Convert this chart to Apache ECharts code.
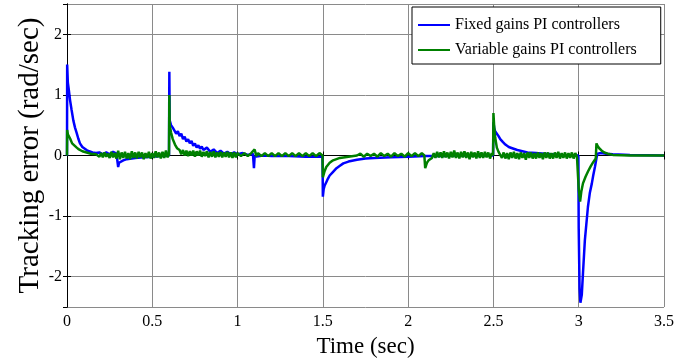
<!DOCTYPE html>
<html>
<head>
<meta charset="utf-8">
<script src="https://cdn.jsdelivr.net/npm/echarts@6/dist/echarts.min.js"></script>
<style>html,body{margin:0;padding:0;background:#fff}#c{width:696px;height:364px}</style>
</head>
<body>
<div id="c"></div>
<script>
const seriesNames = ['Fixed gains PI controllers', 'Variable gains PI controllers'];
const xTicks = ['0', '0.5', '1', '1.5', '2', '2.5', '3', '3.5'];
const yTicks = ['-2', '-1', '0', '1', '2'];

// [time (sec), tracking error (rad/sec)]
const fixedGains = [
  [0,0],[0.001,1.5],[0.005,1.2],[0.01,1.1],[0.018,0.91],[0.027,0.75],[0.037,0.58],[0.047,0.46],
  [0.057,0.37],[0.066,0.28],[0.076,0.2],[0.09,0.14],[0.1,0.11],[0.115,0.09],[0.13,0.07],[0.15,0.05],
  [0.17,0.04],[0.19,0.05],[0.21,0.02],[0.23,0.05],[0.25,0.02],[0.27,0.06],[0.29,0.03],[0.298,0.05],
  [0.3,-0.19],[0.305,-0.12],[0.31,-0.1],[0.33,-0.08],[0.35,-0.06],[0.38,-0.05],[0.4,-0.04],[0.45,-0.03],
  [0.5,-0.02],[0.55,-0.01],[0.598,0],
  [0.6,1.38],[0.602,0.58],[0.61,0.5],[0.62,0.46],[0.63,0.41],[0.64,0.36],[0.65,0.4],[0.66,0.32],
  [0.67,0.36],[0.68,0.27],[0.69,0.31],[0.7,0.23],[0.71,0.27],[0.72,0.2],[0.73,0.24],[0.74,0.16],
  [0.75,0.2],[0.76,0.13],[0.77,0.17],[0.78,0.11],[0.79,0.15],[0.8,0.09],[0.82,0.13],[0.84,0.06],
  [0.86,0.1],[0.88,0.04],[0.9,0.08],[0.92,0.03],[0.94,0.06],[0.96,0.02],[0.98,0.05],[1.0,0.02],
  [1.03,0.04],[1.06,0.01],[1.09,0.03],[1.096,-0.21],[1.1,-0.02],[1.15,0],[1.2,-0.01],[1.3,-0.01],
  [1.4,-0.02],[1.498,-0.02],
  [1.5,-0.68],[1.505,-0.55],[1.51,-0.5],[1.52,-0.44],[1.53,-0.38],[1.54,-0.33],[1.56,-0.27],[1.58,-0.21],
  [1.6,-0.17],[1.62,-0.13],[1.65,-0.1],[1.7,-0.07],[1.75,-0.05],[1.8,-0.04],[1.9,-0.03],[2.0,-0.02],
  [2.1,-0.01],[2.2,-0.01],[2.3,0],[2.498,0],
  [2.5,0.55],[2.505,0.45],[2.51,0.4],[2.52,0.36],[2.53,0.32],[2.54,0.27],[2.556,0.22],[2.57,0.18],
  [2.59,0.14],[2.61,0.12],[2.64,0.09],[2.67,0.07],[2.7,0.05],[2.75,0.04],[2.8,0.03],[2.9,0.01],[2.998,0],
  [3.0,-1.2],[3.005,-2.2],[3.01,-2.43],[3.018,-2.3],[3.025,-1.94],[3.036,-1.4],[3.054,-0.85],[3.065,-0.62],
  [3.077,-0.46],[3.085,-0.33],[3.095,-0.19],[3.105,-0.03],[3.11,0.03],[3.13,0.04],[3.16,0.03],[3.2,0.02],
  [3.3,0.01],[3.5,0]
];

const variableGains = [
  [0,0],[0.001,0.42],[0.005,0.35],[0.01,0.32],[0.018,0.28],[0.03,0.2],[0.04,0.17],[0.057,0.13],
  [0.07,0.1],[0.09,0.07],[0.115,0.05],[0.14,0.03],[0.17,0.02],
  [0.18,0.03],[0.19,-0.02],[0.2,0.04],[0.21,-0.03],[0.22,0.05],[0.23,-0.02],[0.24,0.03],[0.25,-0.04],
  [0.26,0.06],[0.27,-0.03],[0.28,0.04],[0.29,-0.05],[0.3,0.08],[0.31,-0.06],[0.32,0.05],[0.33,-0.04],
  [0.34,0.06],[0.35,-0.05],[0.36,0.04],[0.37,-0.06],[0.38,0.07],[0.39,-0.04],[0.4,0.05],[0.41,-0.05],
  [0.42,0.06],[0.43,-0.03],[0.44,0.05],[0.45,-0.06],[0.46,0.04],[0.47,-0.04],[0.48,0.06],[0.49,-0.05],
  [0.5,0.04],[0.51,-0.04],[0.52,0.07],[0.53,-0.03],[0.54,0.05],[0.55,-0.05],[0.56,0.06],[0.57,-0.04],
  [0.58,0.08],[0.59,-0.03],[0.598,0.02],
  [0.6,1.0],[0.602,0.5],[0.61,0.38],[0.62,0.27],[0.633,0.18],[0.645,0.12],[0.66,0.09],
  [0.67,0.02],[0.68,0.09],[0.69,0],[0.7,0.08],[0.71,-0.01],[0.72,0.07],[0.73,0],[0.74,0.08],
  [0.75,-0.02],[0.76,0.07],[0.77,0],[0.78,0.08],[0.79,-0.02],[0.8,0.06],[0.81,-0.01],[0.82,0.07],
  [0.83,-0.03],[0.84,0.06],[0.85,-0.02],[0.86,0.07],[0.87,-0.03],[0.88,0.05],[0.89,-0.02],[0.9,0.06],
  [0.91,-0.03],[0.92,0.05],[0.93,-0.02],[0.94,0.06],[0.95,-0.03],[0.96,0.05],[0.97,-0.04],[0.98,0.05],
  [0.99,-0.03],[1.0,0.04],
  [1.02,-0.01],[1.04,0.04],[1.06,-0.01],[1.08,0.04],[1.1,0.1],[1.11,-0.01],[1.12,0.04],[1.14,-0.01],
  [1.16,0.04],[1.18,-0.01],[1.2,0.04],[1.22,-0.01],[1.24,0.04],[1.26,-0.01],[1.28,0.04],[1.3,-0.01],
  [1.32,0.04],[1.34,-0.01],[1.36,0.04],[1.38,-0.01],[1.4,0.04],[1.42,-0.01],[1.44,0.04],[1.46,-0.01],
  [1.48,0.04],[1.498,0],
  [1.5,-0.36],[1.51,-0.26],[1.52,-0.19],[1.54,-0.12],[1.56,-0.08],[1.6,-0.04],[1.65,-0.02],[1.7,0],
  [1.72,0.03],[1.74,-0.02],[1.76,0.03],[1.78,-0.01],[1.8,0.03],[1.82,-0.02],[1.84,0.04],[1.86,-0.01],
  [1.88,0.03],[1.9,-0.02],[1.92,0.04],[1.94,-0.01],[1.96,0.03],[1.98,-0.02],[2.0,0.04],[2.02,-0.01],
  [2.04,0.04],[2.06,-0.01],[2.08,0.04],[2.095,0],
  [2.1,-0.21],[2.11,-0.12],[2.12,-0.08],[2.14,-0.04],
  [2.15,0.04],[2.16,-0.04],[2.17,0.06],[2.18,-0.03],[2.19,0.05],[2.2,-0.04],[2.21,0.07],[2.22,-0.03],
  [2.23,0.05],[2.24,-0.05],[2.25,0.06],[2.26,-0.03],[2.27,0.08],[2.28,-0.04],[2.29,0.05],[2.3,-0.05],
  [2.31,0.06],[2.32,-0.03],[2.33,0.07],[2.34,-0.04],[2.35,0.05],[2.36,-0.06],[2.37,0.06],[2.38,-0.03],
  [2.39,0.05],[2.4,-0.05],[2.41,0.07],[2.42,-0.04],[2.43,0.05],[2.44,-0.04],[2.45,0.06],[2.46,-0.03],
  [2.47,0.05],[2.48,-0.05],[2.49,0.04],[2.498,0],
  [2.5,0.7],[2.505,0.45],[2.51,0.3],[2.52,0.13],[2.53,0.06],[2.54,0.04],
  [2.55,-0.04],[2.56,0.05],[2.57,-0.05],[2.58,0.04],[2.59,-0.06],[2.6,0.05],[2.61,-0.04],[2.62,0.06],
  [2.63,-0.05],[2.64,0.04],[2.65,-0.06],[2.66,0.05],[2.67,-0.04],[2.68,0.04],[2.69,-0.07],[2.7,0.05],
  [2.71,-0.04],[2.72,0.05],[2.73,-0.05],[2.74,0.04],[2.75,-0.05],[2.76,0.05],[2.77,-0.04],[2.78,0.04],
  [2.79,-0.06],[2.8,0.05],[2.81,-0.04],[2.82,0.05],[2.83,-0.05],[2.84,0.04],[2.85,-0.05],[2.86,0.05],
  [2.87,-0.04],[2.88,0.06],[2.89,-0.05],[2.9,0.04],[2.91,-0.04],[2.92,0.05],[2.93,-0.05],[2.94,0.04],
  [2.95,-0.04],[2.96,0.05],[2.97,-0.05],[2.98,0.04],[2.99,-0.03],[2.998,0],
  [3.0,-0.55],[3.008,-0.76],[3.015,-0.6],[3.025,-0.46],[3.04,-0.35],[3.055,-0.26],[3.07,-0.18],[3.085,-0.11],
  [3.1,-0.05],[3.104,0.2],[3.11,0.16],[3.12,0.12],[3.135,0.08],[3.15,0.05],[3.17,0.03],[3.2,0.01],
  [3.3,0],[3.5,0]
];

const FONT = '"Liberation Serif", "Times New Roman", serif';
const chart = echarts.init(document.getElementById('c'), null, {renderer: 'canvas'});
const gridColor = '#8a8a8a';
const fmtY = v => (yTicks.indexOf(String(v)) >= 0 ? String(v) : '');
const fmtX = v => { const s = String(+v.toFixed(2)); return xTicks.indexOf(s) >= 0 ? s : ''; };

chart.setOption({
  animation: false,
  backgroundColor: '#fff',
  grid: {left: 67, right: 32, top: 4, bottom: 57, containLabel: false},
  legend: {
    orient: 'vertical', left: 412, top: 7,
    padding: [10, 24, 6, 6], itemGap: 9, itemWidth: 32, itemHeight: 2,
    icon: 'rect',
    borderColor: '#000', borderWidth: 1, backgroundColor: '#fff',
    textStyle: {fontFamily: FONT, fontSize: 16, color: '#000', lineHeight: 16},
    data: seriesNames
  },
  xAxis: [{
    type: 'value', min: 0, max: 3.5, interval: 0.5,
    name: 'Time (sec)', nameLocation: 'middle', nameGap: 28, nameMoveOverlap: false,
    nameTextStyle: {fontFamily: FONT, fontSize: 23, color: '#000'},
    axisLine: {lineStyle: {color: '#000', width: 1}},
    axisTick: {inside: true, length: 4, lineStyle: {color: '#000'}},
    axisLabel: {fontFamily: FONT, fontSize: 16, color: '#000', margin: 7, formatter: fmtX},
    splitLine: {show: true, lineStyle: {color: gridColor, width: 1}}
  }, {
    type: 'value', min: 0, max: 3.5, interval: 0.5, position: 'top',
    axisLine: {show: true, lineStyle: {color: '#000', width: 1}},
    axisTick: {show: true, inside: true, length: 4, lineStyle: {color: '#000'}},
    axisLabel: {show: false}, splitLine: {show: false}
  }],
  yAxis: [{
    type: 'value', min: -2.5, max: 2.5, splitNumber: 5,
    name: 'Tracking error (rad/sec)', nameLocation: 'middle', nameGap: 22, nameMoveOverlap: false,
    nameTextStyle: {fontFamily: FONT, fontSize: 29, color: '#000'},
    axisLine: {show: true, lineStyle: {color: '#000', width: 1}},
    axisTick: {inside: true, length: 4, lineStyle: {color: '#000'}},
    axisLabel: {fontFamily: FONT, fontSize: 16, color: '#000', margin: 5, formatter: fmtY,
                showMinLabel: false, showMaxLabel: false},
    splitLine: {show: true, lineStyle: {color: gridColor, width: 1}}
  }, {
    type: 'value', min: -2.5, max: 2.5, splitNumber: 5, position: 'right',
    axisLine: {show: true, lineStyle: {color: '#000', width: 1}},
    axisTick: {show: true, inside: true, length: 4, lineStyle: {color: '#000'}},
    axisLabel: {show: false}, splitLine: {show: false}
  }],
  series: [{
    name: seriesNames[0], type: 'line', data: fixedGains, xAxisIndex: 0, yAxisIndex: 0,
    symbol: 'none', color: '#0000ff', lineStyle: {color: '#0000ff', width: 2.5}, z: 2
  }, {
    name: seriesNames[1], type: 'line', data: variableGains, xAxisIndex: 0, yAxisIndex: 0,
    symbol: 'none', color: '#008000', lineStyle: {color: '#008000', width: 2.5}, z: 3
  }]
});
</script>
</body>
</html>
